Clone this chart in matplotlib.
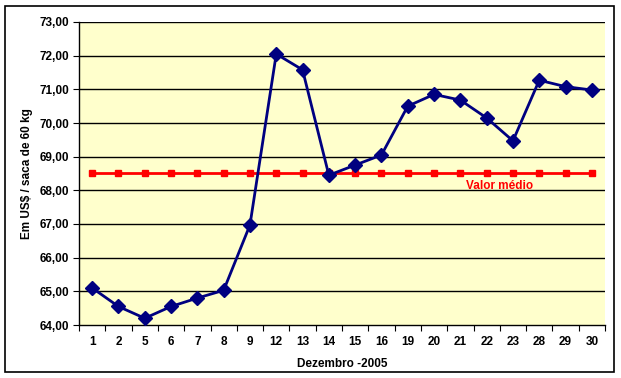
import matplotlib.pyplot as plt
from matplotlib.patches import Rectangle

days = ["1", "2", "5", "6", "7", "8", "9", "12", "13", "14",
        "15", "16", "19", "20", "21", "22", "23", "28", "29", "30"]
prices = [65.10, 64.55, 64.20, 64.55, 64.80, 65.03, 66.97, 72.05, 71.58, 68.45,
          68.75, 69.05, 70.50, 70.85, 70.68, 70.15, 69.47, 71.27, 71.08, 70.98]
mean_value = 68.52
mean_line = [mean_value] * len(days)
y_ticks = [64, 65, 66, 67, 68, 69, 70, 71, 72, 73]

plt.rcParams["font.family"] = ["Liberation Sans", "DejaVu Sans"]
plt.rcParams["font.weight"] = "bold"

fig = plt.figure(figsize=(6.21, 3.78), dpi=100)
fig.patches.append(Rectangle((5 / 621, 6 / 378), 609 / 621, 366 / 378,
                             transform=fig.transFigure, fill=False,
                             edgecolor="black", linewidth=1.2))

ax = fig.add_axes([79 / 621, 1 - 325 / 378, 526 / 621, 303 / 378])
ax.set_facecolor("#FFFFCC")

x = list(range(len(days)))
for t in y_ticks[1:]:
    ax.axhline(t, color="black", linewidth=1.0, zorder=1)

ax.plot(x, mean_line, color="#FF0000", linewidth=2, marker="s",
        markersize=5, zorder=3)
ax.plot(x, prices, color="#000080", linewidth=2, marker="D",
        markersize=7.5, zorder=4)

ax.text(15.5, 68.13, "Valor médio", color="#FF0000", fontsize=8.5,
        fontweight="bold", ha="center", va="center")

ax.set_xlim(-0.5, len(days) - 0.5)
ax.set_ylim(64, 73)
ax.set_yticks(y_ticks)
ax.set_yticklabels([f"{v:.2f}".replace(".", ",") for v in y_ticks], fontsize=8.5)
ax.set_xticks([i - 0.5 for i in range(len(days) + 1)])
ax.set_xticklabels([])
ax.set_xticks(x, minor=True)
ax.set_xticklabels(days, minor=True, fontsize=8.5)
ax.tick_params(axis="x", which="minor", length=0, pad=8)
ax.tick_params(axis="x", which="major", length=4, direction="out")
ax.tick_params(axis="y", length=4, direction="out", pad=3)

for s in ["top", "right"]:
    ax.spines[s].set_visible(False)
ax.spines["left"].set_linewidth(1.0)
ax.spines["bottom"].set_linewidth(1.0)

ax.set_xlabel("Dezembro -2005", fontsize=8.5, fontweight="bold", labelpad=7)
ax.set_ylabel("Em US$ / saca de 60 kg", fontsize=8.5, fontweight="bold", labelpad=5)

fig.savefig("out.png", dpi=100)
